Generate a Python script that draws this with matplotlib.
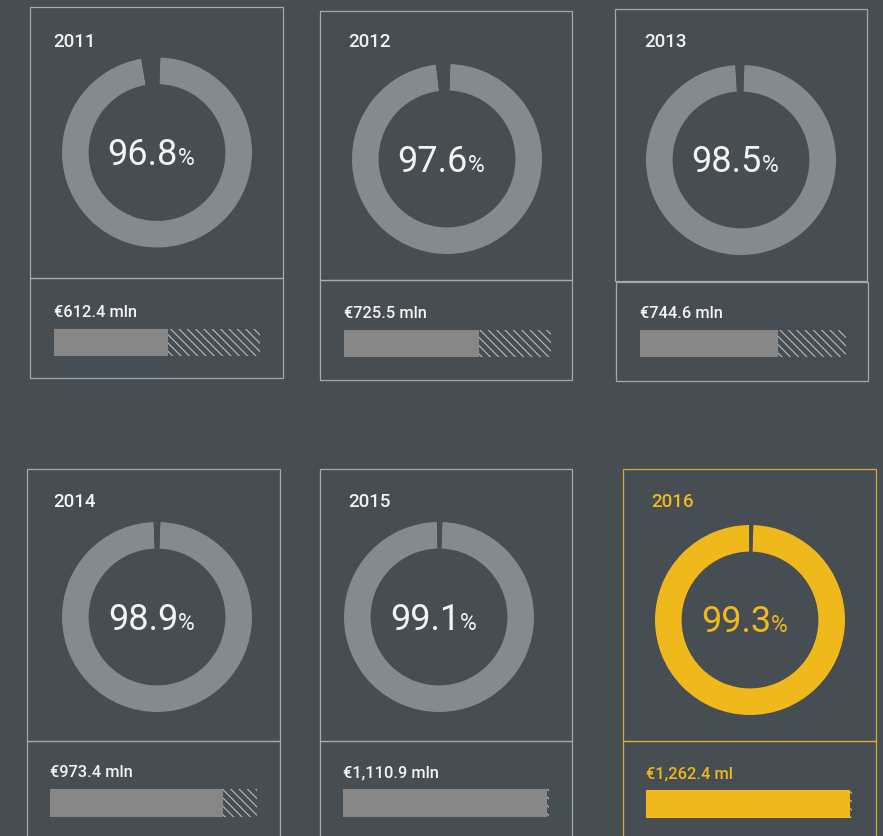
import matplotlib
matplotlib.use("Agg")
import matplotlib.pyplot as plt
from matplotlib.patches import Rectangle

# Data
years = ["2011", "2012", "2013", "2014", "2015", "2016"]
pct = [96.8, 97.6, 98.5, 98.9, 99.1, 99.3]
amount_labels = ["€612.4 mln", "€725.5 mln", "€744.6 mln",
                 "€973.4 mln", "€1,110.9 mln", "€1,262.4 ml"]
bar_share = [0.553, 0.651, 0.668, 0.835, 0.987, 0.992]

# Layout (pixels, origin top-left)
W, H = 883, 836
upper_box = [(30, 7, 283, 278), (320, 11, 572, 280), (615, 9, 867, 281),
             (27, 469, 280, 741), (320, 469, 572, 741), (623, 469, 876, 741)]
lower_box = [(30, 278, 283, 378), (320, 280, 572, 380), (616, 282, 868, 381),
             (27, 741, 280, 845), (320, 741, 572, 845), (623, 741, 876, 845)]
ring_center = [(157, 152.5), (447, 159), (741, 160),
               (157, 617), (439, 617), (750, 620)]
ring_r = 95
bar_rect = [(53.5, 329, 206.5, 27), (344, 330, 207, 27), (640, 330, 206, 27.5),
            (50, 789, 207, 27.5), (343, 789, 206.5, 27.5), (646, 790, 206, 27.5)]
year_pos = [(53, 47), (348, 47), (644, 47), (53, 507), (348, 507), (651, 507)]

# Colors
bg = "#464d53"
ring_grey = "#848a8d"
bar_grey = "#878787"
edge_grey = "#a5a9ac"
hatch_grey = "#b8bcbe"
text_white = "#f3f3f3"
yellow = "#efb91b"
yellow_edge = "#d6ad2e"

plt.rcParams["font.family"] = ["Roboto", "DejaVu Sans"]
plt.rcParams["hatch.linewidth"] = 0.8
plt.rcParams["hatch.color"] = hatch_grey

fig = plt.figure(figsize=(W / 100, H / 100), dpi=100, facecolor=bg)
ax = fig.add_axes([0, 0, 1, 1])
ax.set_xlim(0, W)
ax.set_ylim(H, 0)
ax.axis("off")
ax.set_facecolor(bg)


def frac(x0, y0, w, h):
    return [x0 / W, 1 - (y0 + h) / H, w / W, h / H]


for i, year in enumerate(years):
    highlight = (i == len(years) - 1)
    main_c = yellow if highlight else ring_grey
    bar_c = yellow if highlight else bar_grey
    txt_c = yellow if highlight else text_white
    box_c = yellow_edge if highlight else edge_grey

    # boxes
    for (x0, y0, x1, y1) in (upper_box[i], lower_box[i]):
        ax.add_patch(Rectangle((x0, y0), x1 - x0, y1 - y0, fill=False,
                               edgecolor=box_c, lw=0.9))

    # year
    yx, yy = year_pos[i]
    ax.text(yx, yy, year, fontsize=13.5, fontweight="medium", color=txt_c,
            ha="left", va="baseline")

    # donut
    cx, cy = ring_center[i]
    dax = fig.add_axes(frac(cx - ring_r, cy - ring_r, 2 * ring_r, 2 * ring_r))
    dax.pie([pct[i], 100 - pct[i]], colors=[main_c, bg], startangle=88,
            counterclock=False, radius=1,
            wedgeprops=dict(width=0.28, linewidth=0))
    dax.set_xlim(-1, 1)
    dax.set_ylim(-1, 1)
    dax.set_aspect("equal")
    dax.axis("off")

    # percentage text
    ax.text(cx + 21, cy + 12.5, f"{pct[i]:.1f}", fontsize=26,
            fontweight="normal", color=txt_c, ha="right", va="baseline")
    ax.text(cx + 21, cy + 12.5, "%", fontsize=16.5, fontweight="normal",
            color=txt_c, ha="left", va="baseline")

    # amount bar
    bx, by, bw, bh = bar_rect[i]
    ax.text(bx, by - 12, amount_labels[i], fontsize=11.8, fontweight="medium",
            color=txt_c, ha="left", va="baseline")
    bax = fig.add_axes(frac(bx, by, bw, bh))
    bax.barh(0, bar_share[i], height=1, left=0, color=bar_c, linewidth=0)
    bax.barh(0, 1 - bar_share[i], height=1, left=bar_share[i], color=bg,
             edgecolor=hatch_grey, hatch="\\\\\\\\", linewidth=0)
    bax.set_xlim(0, 1)
    bax.set_ylim(-0.5, 0.5)
    bax.axis("off")

fig.savefig("out.png", dpi=100, facecolor=bg)
